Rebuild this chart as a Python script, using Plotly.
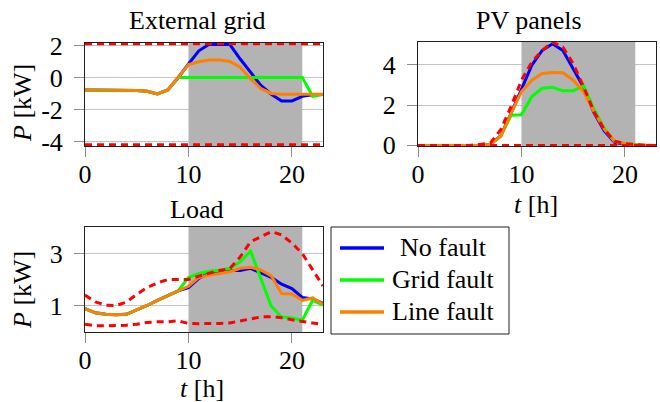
import plotly.graph_objects as go

hours = list(range(24))

# External grid [kW]
grid_no_fault = [-0.78, -0.78, -0.78, -0.78, -0.78, -0.82, -0.86, -1.03, -0.78, -0.02,
                 0.84, 1.66, 2.07, 2.08, 2.05, 1.15, 0.33, -0.5, -1.05, -1.47,
                 -1.47, -1.18, -1.08, -1.06]
grid_grid_fault = [-0.78, -0.78, -0.78, -0.78, -0.78, -0.82, -0.86, -1.03, -0.78, 0.0,
                   0.0, 0.0, 0.0, 0.0, 0.0, 0.0, 0.0, 0.0, 0.0, 0.0,
                   0.0, 0.0, -1.18, -1.06]
grid_line_fault = [-0.78, -0.78, -0.78, -0.78, -0.78, -0.82, -0.86, -1.03, -0.78, -0.02,
                   0.8, 0.98, 1.09, 1.09, 1.0, 0.64, -0.08, -0.7, -1.0, -1.05,
                   -1.05, -1.07, -1.07, -1.05]
grid_upper = [2.1] * 24
grid_lower = [-4.2] * 24

# PV panels [kW]
pv_no_fault = [0, 0, 0, 0, 0, 0, 0.01, 0.05, 0.48, 1.6,
               2.75, 3.97, 4.7, 5.03, 4.7, 3.8, 2.88, 1.62, 0.72, 0.15,
               0.05, 0.01, 0, 0]
pv_grid_fault = [0, 0, 0, 0, 0, 0, 0.01, 0.05, 0.46, 1.49,
                 1.52, 2.42, 2.83, 2.88, 2.7, 2.7, 2.96, 1.8, 0.85, 0.2,
                 0.1, 0.05, 0, 0]
pv_line_fault = [0, 0, 0, 0, 0, 0, 0.01, 0.05, 0.46, 1.6,
                 2.66, 3.23, 3.56, 3.61, 3.6, 3.23, 2.66, 1.68, 0.8, 0.2,
                 0.08, 0.02, 0, 0]
pv_upper = [0, 0, 0, 0, 0, 0, 0.05, 0.12, 0.78, 1.93,
            3.23, 4.13, 4.7, 5.11, 4.87, 4.05, 2.9, 1.68, 0.78, 0.21,
            0.08, 0.03, 0, 0]
pv_lower = [0] * 24

# Load [kW]
load_no_fault = [0.88, 0.72, 0.66, 0.64, 0.66, 0.82, 1.0, 1.2, 1.37, 1.56,
                 1.69, 2.04, 2.25, 2.31, 2.35, 2.35, 2.43, 2.25, 2.08, 1.82,
                 1.65, 1.31, 1.25, 1.08]
load_grid_fault = [0.88, 0.72, 0.66, 0.64, 0.66, 0.82, 1.0, 1.2, 1.37, 1.56,
                   2.08, 2.23, 2.32, 2.36, 2.43, 2.68, 3.09, 2.02, 0.97, 0.56,
                   0.52, 0.43, 1.2, 1.01]
load_line_fault = [0.88, 0.72, 0.66, 0.64, 0.66, 0.82, 1.0, 1.2, 1.37, 1.56,
                   1.74, 2.08, 2.17, 2.23, 2.3, 2.43, 2.47, 2.37, 2.14, 1.46,
                   1.44, 1.2, 1.29, 1.05]
load_upper = [1.4, 1.14, 1.01, 1.0, 1.13, 1.43, 1.69, 1.87, 2.0, 2.0,
              2.0, 2.13, 2.25, 2.35, 2.42, 2.87, 3.45, 3.66, 3.84, 3.72,
              3.4, 3.0, 2.38, 1.75]
load_lower = [0.28, 0.22, 0.22, 0.22, 0.24, 0.28, 0.35, 0.37, 0.37, 0.41,
              0.31, 0.3, 0.3, 0.31, 0.33, 0.41, 0.5, 0.56, 0.57, 0.53,
              0.45, 0.38, 0.33, 0.27]

fault_window = (10, 21)

series_names = ["No fault", "Grid fault", "Line fault"]
series_colors = ["#0000ff", "#00ff00", "#ff8000"]
bound_color = "#ff0000"

y_ranges = [(-4.28, 2.15), (-0.03, 5.12), (-0.02, 4.02)]

FONT = "Liberation Serif"
FS = 26
W, H = 660, 402

fig = go.Figure()

panels = [
    ("x", "y", [grid_no_fault, grid_grid_fault, grid_line_fault], [grid_upper, grid_lower]),
    ("x2", "y2", [pv_no_fault, pv_grid_fault, pv_line_fault], [pv_upper, pv_lower]),
    ("x3", "y3", [load_no_fault, load_grid_fault, load_line_fault], [load_upper, load_lower]),
]

for pi, (xa, ya, series, bounds) in enumerate(panels):
    for si, (vals, name, col) in enumerate(zip(series, series_names, series_colors)):
        fig.add_trace(go.Scatter(
            x=hours, y=vals, mode="lines", name=name, xaxis=xa, yaxis=ya,
            line=dict(color=col, width=3), showlegend=False,
        ))
    for b in bounds:
        fig.add_trace(go.Scatter(
            x=hours, y=b, mode="lines", xaxis=xa, yaxis=ya, showlegend=False,
            line=dict(color=bound_color, width=3, dash="7px,5px"),
        ))
    y0, y1 = y_ranges[pi]
    fig.add_shape(type="rect", xref=xa, yref=ya,
                  x0=fault_window[0], x1=fault_window[1], y0=y0, y1=y1,
                  fillcolor="#b3b3b3", line=dict(width=0), layer="between")


def px_x(p):
    return p / W


def px_y(p):
    return 1 - p / H


axis_common = dict(
    showline=True, linecolor="#202020", linewidth=1, mirror=True,
    ticks="outside", ticklen=10, tickcolor="#8c8c8c", tickwidth=1,
    tickfont=dict(family=FONT, size=FS, color="black"),
    zeroline=False, automargin=False,
)

fig.update_layout(
    xaxis=dict(domain=[px_x(85), px_x(323)], range=[0, 23], tickvals=[0, 10, 20],
               showgrid=False, anchor="y", ticklabelstandoff=-5, **axis_common),
    yaxis=dict(domain=[px_y(146), px_y(43)], range=list(y_ranges[0]),
               tickvals=[-4, -2, 0, 2], ticktext=["-4", "-2", "0", "2"],
               showgrid=True, gridcolor="#c4c4c4", gridwidth=1, anchor="x",
               ticklabelstandoff=6, **axis_common),
    xaxis2=dict(domain=[px_x(418), px_x(656)], range=[0, 23], tickvals=[0, 10, 20],
                showgrid=False, anchor="y2", ticklabelstandoff=-5, **axis_common),
    yaxis2=dict(domain=[px_y(146), px_y(42)], range=list(y_ranges[1]),
                tickvals=[0, 2, 4],
                showgrid=True, gridcolor="#c4c4c4", gridwidth=1, anchor="x2",
                ticklabelstandoff=6, **axis_common),
    xaxis3=dict(domain=[px_x(85), px_x(323)], range=[0, 23], tickvals=[0, 10, 20],
                showgrid=False, anchor="y3", ticklabelstandoff=-5, **axis_common),
    yaxis3=dict(domain=[px_y(332), px_y(227)], range=list(y_ranges[2]),
                tickvals=[1, 3],
                showgrid=True, gridcolor="#c4c4c4", gridwidth=1, anchor="x3",
                ticklabelstandoff=6, **axis_common),
    width=W, height=H, autosize=False,
    margin=dict(l=0, r=0, t=0, b=0, pad=0, autoexpand=False),
    paper_bgcolor="white", plot_bgcolor="white",
    font=dict(family=FONT, size=FS, color="black"),
    showlegend=False,
)

# Legend box (drawn as layout shapes / annotations)
fig.add_shape(type="rect", xref="paper", yref="paper",
              x0=px_x(331), x1=px_x(509), y0=px_y(334), y1=px_y(227),
              line=dict(color="#202020", width=1), fillcolor="white", layer="above")
legend_rows = [248, 280, 312]
for name, col, ry in zip(series_names, series_colors, legend_rows):
    fig.add_shape(type="line", xref="paper", yref="paper",
                  x0=px_x(340), x1=px_x(384), y0=px_y(ry), y1=px_y(ry),
                  line=dict(color=col, width=3.5), layer="above")
    fig.add_annotation(text=name, x=px_x(443), y=px_y(ry - 1), xref="paper", yref="paper",
                       xanchor="center", yanchor="middle", showarrow=False,
                       font=dict(family=FONT, size=FS, color="black"))

annots = [
    ("External grid", 197, 20, 0),
    ("PV panels", 529, 20, 0),
    ("Load", 196, 210, 0),
    ("<i>P</i> [kW]", 22, 103, -90),
    ("<i>P</i> [kW]", 22, 290, -90),
    ("<i>t</i> [h]", 536, 204, 0),
    ("<i>t</i> [h]", 202, 388, 0),
]
for text, ax_, ay_, ang in annots:
    fig.add_annotation(text=text, x=px_x(ax_), y=px_y(ay_), xref="paper", yref="paper",
                       xanchor="center", yanchor="middle", showarrow=False,
                       textangle=ang, font=dict(family=FONT, size=FS, color="black"))

fig.write_html("out.html", config={"displayModeBar": False})
